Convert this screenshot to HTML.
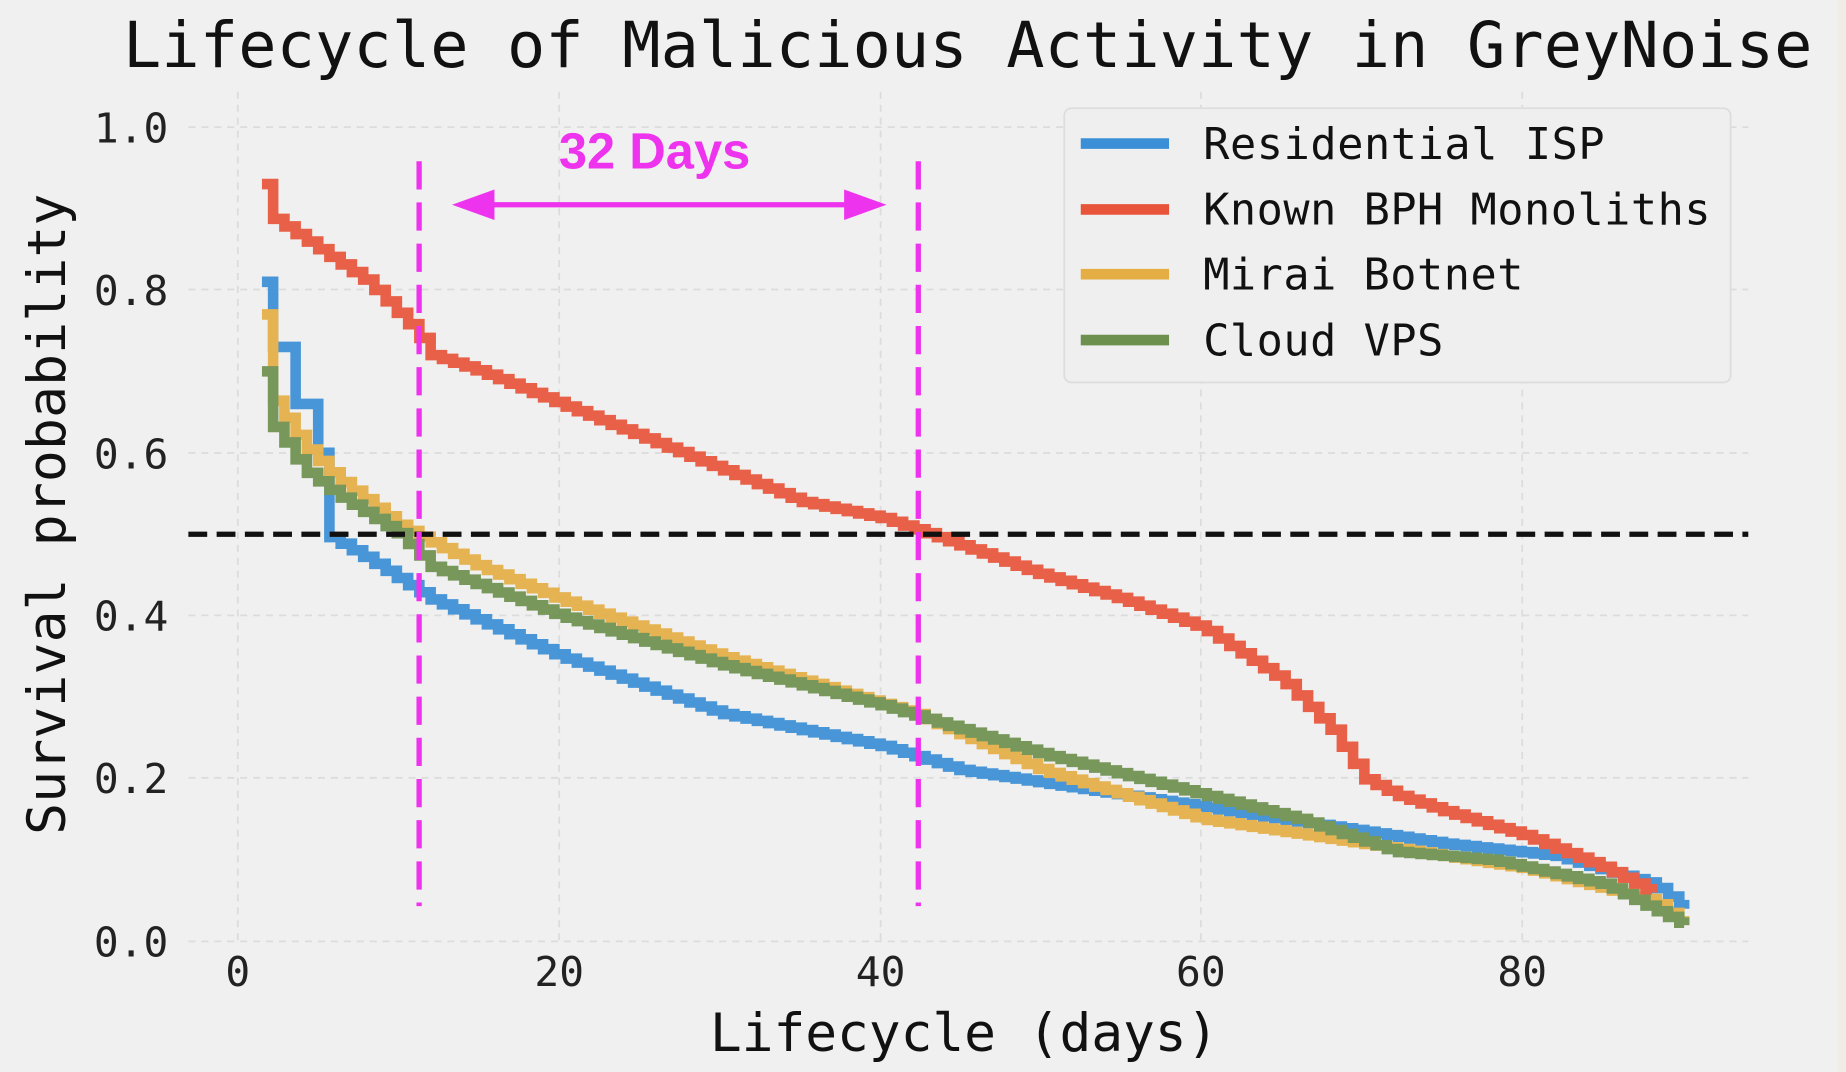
<!DOCTYPE html>
<html><head><style>html,body{margin:0;padding:0;background:#f0f0f0;}svg{display:block}</style></head>
<body>
<svg id="s" width="1846" height="1072" viewBox="0 0 1568 911" preserveAspectRatio="none" xmlns="http://www.w3.org/2000/svg" font-family="'DejaVu Sans Mono','Liberation Mono',monospace">
<rect x="0" y="0" width="1568" height="911" fill="#f0f0f0"/>
<rect x="1561" y="0" width="7" height="911" fill="#efede6"/>
<g stroke="#dcdcdc" stroke-width="1.5" stroke-dasharray="6,5">
<line x1="160" y1="108" x2="1485" y2="108"/><line x1="160" y1="246" x2="1485" y2="246"/>
<line x1="160" y1="385" x2="1485" y2="385"/><line x1="160" y1="523" x2="1485" y2="523"/>
<line x1="160" y1="661" x2="1485" y2="661"/><line x1="160" y1="800" x2="1485" y2="800"/>
<line x1="202" y1="78" x2="202" y2="800"/><line x1="475" y1="78" x2="475" y2="800"/>
<line x1="748" y1="78" x2="748" y2="800"/><line x1="1020" y1="78" x2="1020" y2="800"/>
<line x1="1293" y1="78" x2="1293" y2="800"/>
</g>
<g id="curves" fill="none" stroke-width="9" stroke-linejoin="miter" opacity="0.92"></g>
<line x1="160" y1="454" x2="1485" y2="454" stroke="#111" stroke-width="4.5" stroke-dasharray="16,8"/>
<g stroke="#ee33ee" stroke-width="4.5" stroke-dasharray="24,11">
<line x1="356" y1="137" x2="356" y2="770"/><line x1="780" y1="137" x2="780" y2="770"/>
</g>
<line x1="400" y1="174" x2="737" y2="174" stroke="#ee33ee" stroke-width="4.5"/>
<polygon points="384,174 420,161 420,187" fill="#ee33ee"/>
<polygon points="753,174 717,161 717,187" fill="#ee33ee"/>
<text x="556" y="143" text-anchor="middle" font-family="'Liberation Sans',sans-serif" font-weight="bold" font-size="43" fill="#ee33ee">32 Days</text>
<rect x="904" y="92" width="566" height="233" rx="6" fill="#efefef" stroke="#dddddd" stroke-width="1.5"/>
<g stroke-width="9">
<line x1="918" y1="122" x2="993" y2="122" stroke="#3a8fd6"/>
<line x1="918" y1="178" x2="993" y2="178" stroke="#e8543a"/>
<line x1="918" y1="233" x2="993" y2="233" stroke="#e5ae45"/>
<line x1="918" y1="289" x2="993" y2="289" stroke="#6d904f"/>
</g>
<g font-size="37" fill="#111">
<text x="1022" y="135" textLength="341">Residential ISP</text>
<text x="1022" y="191" textLength="431">Known BPH Monoliths</text>
<text x="1022" y="246" textLength="272">Mirai Botnet</text>
<text x="1022" y="302" textLength="204">Cloud VPS</text>
</g>
<text x="822" y="57" text-anchor="middle" font-size="54" fill="#111" textLength="1435">Lifecycle of Malicious Activity in GreyNoise</text>
<g font-size="35" fill="#222" text-anchor="end">
<text x="143" y="121">1.0</text><text x="143" y="259">0.8</text><text x="143" y="398">0.6</text>
<text x="143" y="536">0.4</text><text x="143" y="674">0.2</text><text x="143" y="813">0.0</text>
</g>
<g font-size="35" fill="#222" text-anchor="middle">
<text x="202" y="838">0</text><text x="475" y="838">20</text><text x="748" y="838">40</text>
<text x="1020" y="838">60</text><text x="1293" y="838">80</text>
</g>
<text x="819" y="893" text-anchor="middle" font-size="45" fill="#111" textLength="432">Lifecycle (days)</text>
<text transform="translate(55,437) rotate(-90)" text-anchor="middle" font-size="45" fill="#111" textLength="545">Survival probability</text>
</svg>
<script>
function X(d){return 202+13.65*d;}function Y(p){return 800-692*p;}
function interp(k,d){for(var i=0;i<k.length-1;i++){if(d<=k[i+1][0]){var t=(d-k[i][0])/(k[i+1][0]-k[i][0]);return k[i][1]+t*(k[i+1][1]-k[i][1]);}}return k[k.length-1][1];}
var S=[
["#3a8fd6",[[1.5,0.81],[2.1,0.81],[2.2,0.73],[3.2,0.73],[3.3,0.66],[4.3,0.66],[4.4,0.60],[5.3,0.60],[5.4,0.50],[8,0.47],[12,0.42],[20,0.35],[30,0.28],[40,0.24],[45,0.21],[55,0.18],[65,0.15],[75,0.12],[82,0.105],[88,0.07],[90,0.04]]],
["#e5ae45",[[1.5,0.77],[1.9,0.77],[2.0,0.67],[4,0.61],[6,0.57],[10,0.51],[15,0.46],[20,0.42],[30,0.35],[42,0.28],[50,0.21],[60,0.15],[70,0.12],[80,0.09],[88,0.05],[90,0.02]]],
["#e8543a",[[1.5,0.93],[1.9,0.93],[2.0,0.89],[5,0.85],[8,0.81],[11,0.75],[12,0.72],[15,0.70],[20,0.66],[25,0.62],[30,0.58],[35,0.54],[40,0.52],[43,0.50],[50,0.45],[55,0.42],[60,0.385],[65,0.32],[68,0.26],[70,0.20],[72,0.18],[75,0.16],[80,0.13],[85,0.09],[88,0.06]]],
["#6d904f",[[1.5,0.70],[1.8,0.70],[1.9,0.64],[3,0.61],[4,0.58],[6,0.55],[10,0.50],[12,0.46],[20,0.40],[30,0.34],[40,0.29],[50,0.23],[60,0.18],[66,0.15],[72,0.11],[78,0.10],[85,0.07],[90,0.02]]]
];
var g=document.getElementById('curves'),h='';
S.forEach(function(s){var k=s[1],d=k[0][0],end=k[k.length-1][0],p=k[0][1];var dd='M'+X(d).toFixed(1)+','+Y(p).toFixed(1);
while(d<end){var nd=Math.min(d+0.7,end);dd+=' H'+X(nd).toFixed(1);p=interp(k,nd);dd+=' V'+Y(p).toFixed(1);d=nd;}
h+='<path d="'+dd+'" stroke="'+s[0]+'"/>';});
g.innerHTML=h;
</script>
</body></html>
